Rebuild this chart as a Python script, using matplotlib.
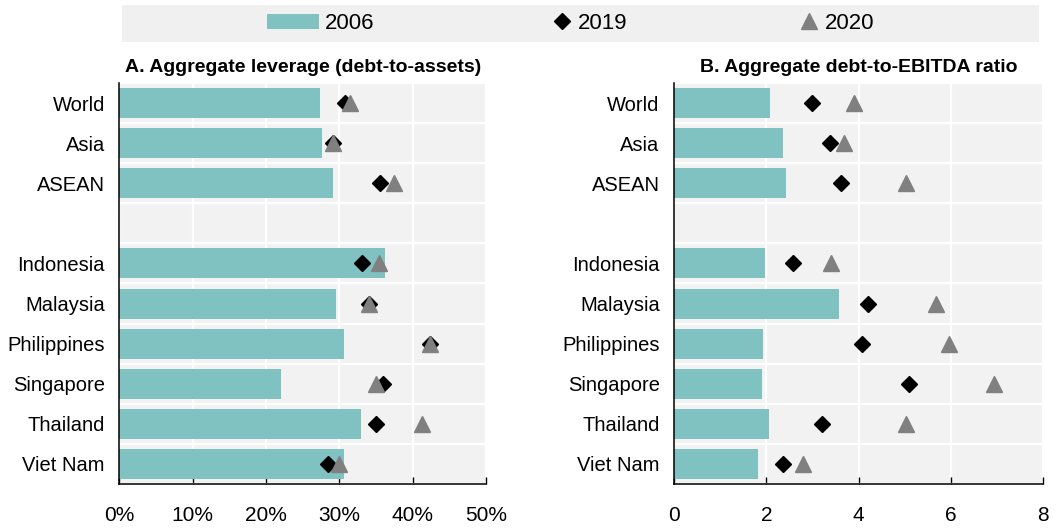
import numpy as np
import matplotlib
matplotlib.use("Agg")
import matplotlib.pyplot as plt
from matplotlib.patches import Patch, Rectangle
from matplotlib.lines import Line2D
from matplotlib.ticker import FuncFormatter, MultipleLocator

plt.rcParams['font.family'] = ['Liberation Sans', 'DejaVu Sans']

# data
categories = ['World', 'Asia', 'ASEAN', 'Indonesia', 'Malaysia', 'Philippines',
              'Singapore', 'Thailand', 'Viet Nam']

lev_2006 = [27.4, 27.6, 29.2, 36.2, 29.6, 30.6, 22.1, 33.0, 30.6]
lev_2019 = [30.8, 29.2, 35.5, 33.1, 34.0, 42.4, 35.9, 35.0, 28.4]
lev_2020 = [31.5, 29.2, 37.4, 35.4, 34.0, 42.4, 35.0, 41.3, 30.0]

ebitda_2006 = [2.08, 2.35, 2.43, 1.98, 3.58, 1.93, 1.91, 2.06, 1.82]
ebitda_2019 = [3.00, 3.37, 3.63, 2.58, 4.21, 4.08, 5.10, 3.21, 2.35]
ebitda_2020 = [3.90, 3.69, 5.03, 3.41, 5.68, 5.97, 6.94, 5.03, 2.79]

teal = '#80c1c2'
grey_bg = '#f2f2f2'
tri_col = '#808080'

# aggregates first, then a blank row, then the countries
idx = np.arange(len(categories))
ypos = idx + (idx >= 3)

fig = plt.figure(figsize=(10.59, 5.30), dpi=100)
axA = fig.add_axes([0.1128, 0.0868, 0.346, 0.7566])
axB = fig.add_axes([0.6367, 0.0868, 0.348, 0.7566])


def draw_panel(ax, bars, v19, v20, xmax, step, title, fmt):
    ax.set_facecolor(grey_bg)
    ax.barh(ypos, bars, height=0.75, color=teal, zorder=2)
    # 2020 triangles sit on top of the 2019 diamonds
    ax.plot(v19, ypos, 'D', color='black', ms=8.5, zorder=3, linestyle='none')
    ax.plot(v20, ypos, '^', color=tri_col, ms=11, zorder=4, linestyle='none')
    ax.set_xlim(0, xmax)
    ax.set_ylim(9.5, -0.5)
    ax.xaxis.set_major_locator(MultipleLocator(step))
    ax.xaxis.set_major_formatter(FuncFormatter(fmt))
    ax.set_yticks(ypos)
    ax.set_yticklabels(categories)
    ax.set_yticks(np.arange(-0.5, 10, 1), minor=True)
    ax.grid(axis='x', which='major', color='white', lw=1.6, zorder=1)
    ax.grid(axis='y', which='minor', color='white', lw=1.6, zorder=1)
    ax.set_axisbelow(True)
    for s in ['top', 'right']:
        ax.spines[s].set_visible(False)
    for s in ['left', 'bottom']:
        ax.spines[s].set_color('black')
        ax.spines[s].set_linewidth(1.1)
        ax.spines[s].set_zorder(5)
    ax.tick_params(axis='y', which='both', length=0, pad=10.5, labelsize=14.5)
    ax.tick_params(axis='x', which='major', direction='in', length=5, width=1,
                   color='black', pad=15.5, labelsize=15)
    ax.tick_params(axis='x', which='minor', length=0)
    ax.set_title(title, fontsize=14, fontweight='bold', pad=8)


draw_panel(axA, lev_2006, lev_2019, lev_2020, 50, 10,
           'A. Aggregate leverage (debt-to-assets)', lambda v, p: f'{v:.0f}%')
draw_panel(axB, ebitda_2006, ebitda_2019, ebitda_2020, 8, 2,
           'B. Aggregate debt-to-EBITDA ratio', lambda v, p: f'{v:.0f}')

# legend strip across the top
fig.add_artist(Rectangle((0.1152, 0.9208), 0.866, 0.0698, transform=fig.transFigure,
                         facecolor='#f0f0f0', edgecolor='none', zorder=0))

leg_y = 0.9557
common = dict(loc='center left', frameon=False, fontsize=16, borderpad=0,
              borderaxespad=0, bbox_transform=fig.transFigure)
l1 = fig.legend([Patch(facecolor=teal)], ['2006'], bbox_to_anchor=(267 / 1059, leg_y),
                handlelength=2.34, handleheight=0.68, handletextpad=0.25, **common)
l2 = fig.legend([Line2D([], [], marker='D', color='black', ms=8.5, linestyle='none')], ['2019'],
                bbox_to_anchor=(551 / 1059, leg_y), handlelength=1.0, handletextpad=0.2, **common)
l3 = fig.legend([Line2D([], [], marker='^', color=tri_col, ms=11, linestyle='none')], ['2020'],
                bbox_to_anchor=(798 / 1059, leg_y), handlelength=1.0, handletextpad=0.2, **common)

fig.savefig('out.png', dpi=100)
